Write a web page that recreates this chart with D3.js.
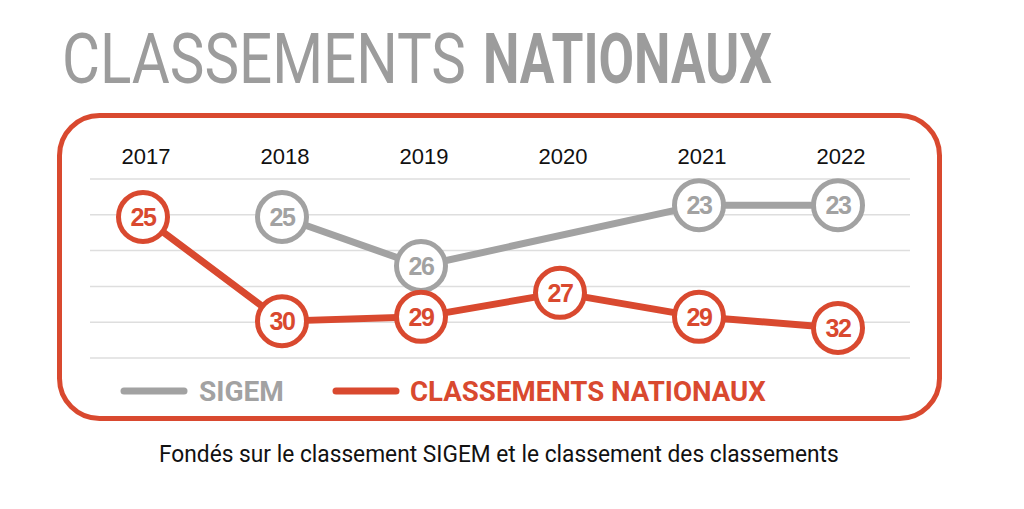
<!DOCTYPE html>
<html>
<head>
<meta charset="utf-8">
<script src="https://cdn.jsdelivr.net/npm/d3@7"></script>
<style>
  body { margin: 0; background: #fff; }
  svg { display: block; }
</style>
</head>
<body>
<svg id="chart" width="1024" height="509"></svg>
<script>
// years on the top row
const years = ['2017', '2018', '2019', '2020', '2021', '2022'];

// rank shown in each circle (null = no point that year)
const sigemRank = [null, 25, 26, null, 23, 23];
const nationalRank = [25, 30, 29, 27, 29, 32];

// vertical level of each point in gridline units (0 = top line)
const sigemLevel = [null, 1.06, 2.43, null, 0.73, 0.73];
const nationalLevel = [1.06, 3.97, 3.85, 3.18, 3.85, 4.16];

const gridLevels = [0, 1, 2, 3, 4, 5];

const RED = '#d9492f';
const GREY = '#a2a2a2';
const CONDENSED = '"Liberation Sans Narrow", Roboto, sans-serif';

let svg = d3.select('#chart');

// squeeze a text horizontally so it spans exactly `width` pixels from x
function fitText(sel, x, y, width) {
    let natural = sel.node().getComputedTextLength();
    let k = width / natural;
    sel.attr('x', 0)
        .attr('y', 0)
        .attr('transform', `translate(${x}, ${y}) scale(${k}, 1)`);
    return sel;
}

// title
fitText(svg.append('text')
    .attr('font-size', 71)
    .attr('fill', '#9c9c9c')
    .attr('font-family', CONDENSED)
    .attr('font-weight', 400)
    .text('CLASSEMENTS'), 62, 83, 404);

fitText(svg.append('text')
    .attr('font-size', 71)
    .attr('fill', '#9c9c9c')
    .attr('font-family', CONDENSED)
    .attr('font-weight', 700)
    .text('NATIONAUX'), 483, 83, 289);

// frame
svg.append('rect')
    .attr('x', 59.5)
    .attr('y', 115.5)
    .attr('width', 880)
    .attr('height', 303)
    .attr('rx', 40)
    .attr('fill', 'none')
    .attr('stroke', RED)
    .attr('stroke-width', 5);

let x = d3.scalePoint()
    .domain(years)
    .range([143, 838]);

let y = d3.scaleLinear()
    .domain([0, 5])
    .range([179, 358]);

// gridlines
svg.append('g')
    .selectAll('line')
    .data(gridLevels)
    .join('line')
    .attr('x1', 90)
    .attr('x2', 910)
    .attr('y1', d => y(d))
    .attr('y2', d => y(d))
    .attr('stroke', '#dedede')
    .attr('stroke-width', 1.5);

// year labels
svg.append('g')
    .selectAll('text')
    .data(years)
    .join('text')
    .attr('x', d => x(d) + 3)
    .attr('y', 164)
    .attr('text-anchor', 'middle')
    .attr('font-family', '"Liberation Sans", Arial, sans-serif')
    .attr('font-size', 22)
    .attr('fill', '#111')
    .text(d => d);

function drawSeries(ranks, levels, color) {
    let pts = years.map((yr, i) => ({ year: yr, rank: ranks[i], level: levels[i] }))
        .filter(d => d.rank !== null);

    let line = d3.line()
        .x(d => x(d.year))
        .y(d => y(d.level));

    let g = svg.append('g');

    g.append('path')
        .attr('d', line(pts))
        .attr('fill', 'none')
        .attr('stroke', color)
        .attr('stroke-width', 7)
        .attr('stroke-linejoin', 'round');

    let node = g.selectAll('g')
        .data(pts)
        .join('g')
        .attr('transform', d => `translate(${x(d.year)}, ${y(d.level)})`);

    node.append('circle')
        .attr('r', 24.5)
        .attr('fill', '#fff')
        .attr('stroke', color)
        .attr('stroke-width', 5);

    node.append('text')
        .attr('text-anchor', 'middle')
        .attr('dy', '0.36em')
        .attr('font-family', '"Liberation Sans", Arial, sans-serif')
        .attr('font-weight', 700)
        .attr('font-size', 25)
        .attr('letter-spacing', -1.5)
        .attr('fill', color)
        .text(d => d.rank);
}

drawSeries(sigemRank, sigemLevel, GREY);
drawSeries(nationalRank, nationalLevel, RED);

// legend
let legend = [
    { label: 'SIGEM', color: GREY, x0: 124, x1: 184, tx: 199, w: 85 },
    { label: 'CLASSEMENTS NATIONAUX', color: RED, x0: 336, x1: 396, tx: 410, w: 356 }
];

let lg = svg.append('g')
    .selectAll('g')
    .data(legend)
    .join('g');

lg.append('line')
    .attr('x1', d => d.x0)
    .attr('x2', d => d.x1)
    .attr('y1', 391)
    .attr('y2', 391)
    .attr('stroke', d => d.color)
    .attr('stroke-width', 7)
    .attr('stroke-linecap', 'round');

lg.append('text')
    .attr('font-family', CONDENSED)
    .attr('font-weight', 700)
    .attr('font-size', 27)
    .attr('fill', d => d.color)
    .text(d => d.label)
    .each(function (d) { fitText(d3.select(this), d.tx, 401, d.w); });

// caption
fitText(svg.append('text')
    .attr('font-family', CONDENSED)
    .attr('font-size', 23)
    .attr('fill', '#111')
    .text('Fondés sur le classement SIGEM et le classement des classements'), 159, 462, 680);
</script>
</body>
</html>
